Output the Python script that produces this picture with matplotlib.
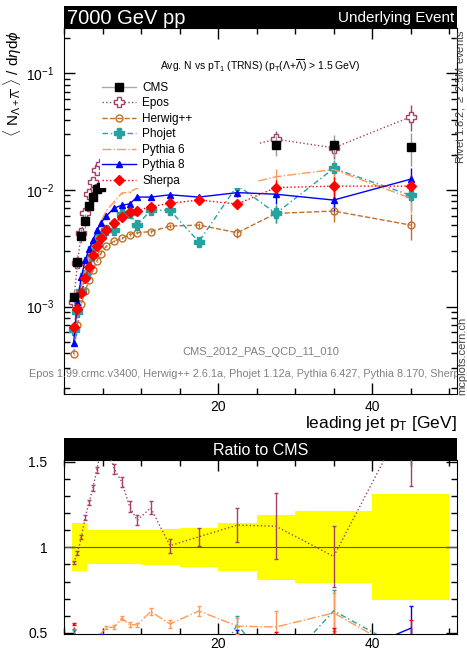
import matplotlib
matplotlib.use("Agg")
import matplotlib.pyplot as plt
from matplotlib.lines import Line2D
from matplotlib.patches import Rectangle
from matplotlib.ticker import FixedLocator, MultipleLocator, LogLocator, NullFormatter, FuncFormatter
from matplotlib.transforms import Bbox, TransformedBbox

plt.rcParams['font.family'] = ['Liberation Sans', 'DejaVu Sans']
plt.rcParams['mathtext.fontset'] = 'custom'
plt.rcParams['mathtext.rm'] = 'Liberation Sans'
plt.rcParams['mathtext.it'] = 'Liberation Sans:italic'
plt.rcParams['mathtext.bf'] = 'Liberation Sans:bold'

# leading jet pT bins
bin_lo = [1.0, 1.5, 2.0, 2.5, 3.0, 3.5, 4.0, 4.5, 5, 6, 7, 8, 9, 10, 12.5, 15, 20, 25, 30, 40]
bin_hi = [1.5, 2.0, 2.5, 3.0, 3.5, 4.0, 4.5, 5.0, 6, 7, 8, 9, 10, 12.5, 15, 20, 25, 30, 40, 50]
pt = [1.25, 1.75, 2.25, 2.75, 3.25, 3.75, 4.25, 4.75, 5.5, 6.5, 7.5, 8.5, 9.5, 11.25, 13.75, 17.5, 22.5, 27.5, 35, 45]

# data
cms = [1.21e-3, 2.43e-3, 4.06e-3, 5.45e-3, 7.29e-3, 8.76e-3, 1.02e-2, 1.07e-2, 1.25e-2, 1.48e-2,
       1.60e-2, 1.75e-2, 1.90e-2, 1.95e-2, 2.10e-2, 2.10e-2, 2.00e-2, 2.43e-2, 2.43e-2, 2.35e-2]
cms_relerr = [0.14, 0.14, 0.14, 0.14, 0.10, 0.10, 0.10, 0.10, 0.10, 0.10,
              0.10, 0.10, 0.10, 0.102, 0.105, 0.115, 0.14, 0.19, 0.21, 0.31]

# generators
epos = [1.10e-3, 2.35e-3, 4.30e-3, 6.40e-3, 9.20e-3, 1.18e-2, 1.48e-2, 1.67e-2, 2.00e-2, 2.16e-2,
        2.21e-2, 2.17e-2, 2.20e-2, 2.40e-2, 2.12e-2, 2.23e-2, 2.26e-2, 2.73e-2, 2.30e-2, 4.25e-2]
herwig = [3.9e-4, 7.0e-4, 1.05e-3, 1.35e-3, 1.70e-3, 2.05e-3, 2.45e-3, 2.85e-3, 3.30e-3, 3.65e-3,
          3.85e-3, 4.15e-3, 4.30e-3, 4.40e-3, 4.90e-3, 5.00e-3, 4.30e-3, 6.30e-3, 6.60e-3, 5.00e-3]
phojet = [6.3e-4, 9.0e-4, 1.35e-3, 1.86e-3, 2.54e-3, 3.20e-3, 3.60e-3, 4.00e-3, 4.54e-3, 4.54e-3,
          6.20e-3, 6.30e-3, 5.00e-3, 6.70e-3, 6.70e-3, 3.60e-3, 1.10e-2, 6.30e-3, 1.53e-2, 9.00e-3]
pythia6 = [5.8e-4, 1.0e-3, 1.5e-3, 2.0e-3, 2.6e-3, 3.3e-3, 4.2e-3, 5.3e-3, 6.65e-3, 7.9e-3,
           9.4e-3, 9.6e-3, 1.04e-2, 1.22e-2, 1.16e-2, 1.32e-2, 1.08e-2, 1.30e-2, 1.50e-2, 8.5e-3]
pythia8 = [4.9e-4, 1.1e-3, 1.8e-3, 2.5e-3, 3.1e-3, 3.7e-3, 4.5e-3, 5.2e-3, 6.0e-3, 7.0e-3,
           7.4e-3, 7.6e-3, 8.7e-3, 8.7e-3, 9.1e-3, 8.7e-3, 9.5e-3, 9.2e-3, 8.2e-3, 1.24e-2]
sherpa = [6.7e-4, 9.6e-4, 1.30e-3, 1.75e-3, 2.20e-3, 2.75e-3, 3.30e-3, 3.85e-3, 4.54e-3, 5.18e-3,
          5.90e-3, 6.52e-3, 6.64e-3, 7.19e-3, 7.69e-3, 8.21e-3, 7.58e-3, 1.05e-2, 1.08e-2, 1.08e-2]
mc_relerr = [0.01, 0.01, 0.01, 0.01, 0.01, 0.012, 0.012, 0.015, 0.015, 0.02,
             0.02, 0.025, 0.025, 0.03, 0.04, 0.05, 0.09, 0.17, 0.19, 0.25]

# name, values, color, linestyle, marker, marker face
generators = [
    ("Epos", epos, "#a3426a", ":", "P", "white"),
    ("Herwig++", herwig, "#c0702a", "--", "o", "none"),
    ("Phojet", phojet, "#26a3a0", (0, (4, 2, 1, 2)), "P", "#26a3a0"),
    ("Pythia 6", pythia6, "#ff9955", "-.", None, None),
    ("Pythia 8", pythia8, "#0000ff", "-", "^", "#0000ff"),
    ("Sherpa", sherpa, "#ff0000", ":", "D", "#ff0000"),
]

W, H = 467, 650
fig = plt.figure(figsize=(W / 100, H / 100), dpi=100)

def fbox(x0, y0, x1, y1):
    # pixel box (top-left origin) -> figure fraction rect
    return [x0 / W, 1 - y1 / H, (x1 - x0) / W, (y1 - y0) / H]

ax = fig.add_axes(fbox(64, 28, 457, 394))
rax = fig.add_axes(fbox(64, 460, 457, 634))
hdr1 = fig.add_axes(fbox(64, 6, 457, 28))
hdr2 = fig.add_axes(fbox(64, 438, 457, 460))
for h in (hdr1, hdr2):
    h.set_facecolor("black")
    h.set_xticks([])
    h.set_yticks([])
    for s in h.spines.values():
        s.set_visible(False)
hdr1.text(0.008, 0.45, "7000 GeV pp", color="white", fontsize=14.5, va="center", ha="left")
hdr1.text(0.992, 0.45, "Underlying Event", color="white", fontsize=11, va="center", ha="right")
hdr2.text(0.5, 0.45, "Ratio to CMS", color="white", fontsize=11.5, va="center", ha="center")

# main panel
cms_err = [v * e for v, e in zip(cms, cms_relerr)]
ax.errorbar(pt, cms, yerr=cms_err, fmt="s", color="black", ms=5.5, ecolor="#999999",
            elinewidth=1, capsize=0, zorder=4)
handles = [Line2D([], [], color="#aaaaaa", lw=1, marker="s", ms=5.5, mfc="black", mec="black")]
for name, vals, col, ls, mk, mfc in generators:
    err = [v * e for v, e in zip(vals, mc_relerr)]
    ax.errorbar(pt, vals, yerr=err, color=col, ls=ls, lw=1, marker=mk, ms=6.5 if mk == "P" else 5,
                mfc=mfc, mec=col, mew=1, elinewidth=1, capsize=0, zorder=3)
    handles.append(Line2D([], [], color=col, ls=ls, lw=1, marker=mk,
                          ms=6.5 if mk == "P" else 5, mfc=mfc, mec=col))

ax.set_yscale("log")
ax.set_xlim(0, 51)
ax.set_ylim(10 ** -3.75, 10 ** -0.61)

# white legend area covering data
ax.add_patch(Rectangle((0.092, 0.563), 0.402, 0.30, transform=ax.transAxes,
                       facecolor="white", edgecolor="none", zorder=5))
leg = ax.legend(handles, ["CMS"] + [g[0] for g in generators], loc="upper left",
                bbox_to_anchor=(0.085, 0.866), frameon=False, fontsize=8.5,
                handlelength=2.9, handletextpad=0.5, labelspacing=0.3, borderaxespad=0)
leg.set_zorder(6)

ax.xaxis.set_major_locator(FixedLocator([20, 40]))
ax.xaxis.set_minor_locator(MultipleLocator(5))
ax.yaxis.set_major_locator(LogLocator(base=10))
ax.yaxis.set_minor_locator(LogLocator(base=10, subs=[2, 3, 4, 5, 6, 7, 8, 9]))
ax.yaxis.set_minor_formatter(NullFormatter())
ax.tick_params(which="both", direction="in", top=True, right=True, labelsize=10)
ax.tick_params(which="major", length=8, width=1)
ax.tick_params(which="minor", length=4.5, width=1)
ax.tick_params(axis="y", pad=7)
ax.tick_params(axis="x", pad=4)
ax.set_xlabel(r"leading jet p$_{\mathrm{T}}$ [GeV]", fontsize=12.5, loc="right", labelpad=0)

ax.text(0.5, 0.898, r"Avg. N vs pT$_1$ (TRNS) (p$_{\mathrm{T}}$($\Lambda$+$\overline{\Lambda}$) > 1.5 GeV)",
        transform=ax.transAxes, ha="center", va="center", fontsize=7.5)
ax.text(0.5, 0.115, "CMS_2012_PAS_QCD_11_010", transform=ax.transAxes, ha="center", va="center",
        fontsize=8, color="#808080")
vers = fig.text(261 / W, 1 - 374 / H,
                "Epos 1.99.crmc.v3400, Herwig++ 2.6.1a, Phojet 1.12a, Pythia 6.427, Pythia 8.170, Sherpa 1.4.1",
                ha="center", va="center", fontsize=7.8, color="#808080")
vers.set_clip_box(TransformedBbox(Bbox([[0, 0], [457 / W, 1]]), fig.transFigure))
vers.set_clip_on(True)

fig.text(13 / W, 1 - 30 / H,
         r"$\langle$ N$_{\Lambda+\overline{\Lambda}}$ $\rangle$ / d$\eta$d$\phi$",
         rotation=90, ha="center", va="top", fontsize=11)
fig.text(1.0, 1 - 30 / H, r"Rivet 1.8.2, $\geq$ 2.5M events", rotation=90,
         ha="right", va="top", fontsize=8, color="#444444")
fig.text(1.0, 1 - 395 / H, "mcplots.cern.ch", rotation=90,
         ha="right", va="bottom", fontsize=8, color="#444444")

# ratio panel
band_lo = [1 - e for e in cms_relerr]
band_hi = [1 + e for e in cms_relerr]
for lo, hi, b0, b1 in zip(bin_lo, bin_hi, band_lo, band_hi):
    rax.fill_between([lo, hi], [b0, b0], [b1, b1], color="#ffff00", lw=0, zorder=1)
rax.axhline(1, color="#555555", lw=0.8, zorder=2)
for name, vals, col, ls, mk, mfc in generators:
    r = [v / c for v, c in zip(vals, cms)]
    rerr = [q * e for q, e in zip(r, mc_relerr)]
    rax.errorbar(pt, r, yerr=rerr, color=col, ls=ls, lw=1, marker=None,
                 elinewidth=1, capsize=1.5, zorder=3)
rax.set_xlim(0, 51)
rax.set_ylim(0.494, 1.51)
rax.xaxis.set_major_locator(FixedLocator([20, 40]))
rax.xaxis.set_minor_locator(MultipleLocator(5))
rax.yaxis.set_major_locator(FixedLocator([0.5, 1.0, 1.5]))
rax.yaxis.set_minor_locator(MultipleLocator(0.1))
rax.yaxis.set_major_formatter(FuncFormatter(lambda v, p: "%g" % v))
rax.tick_params(which="both", direction="in", top=True, right=True, labelsize=10)
rax.tick_params(which="major", length=8, width=1)
rax.tick_params(which="minor", length=4.5, width=1)
rax.tick_params(axis="y", pad=12)
rax.tick_params(axis="x", pad=2)

fig.savefig("out.png", dpi=100)
